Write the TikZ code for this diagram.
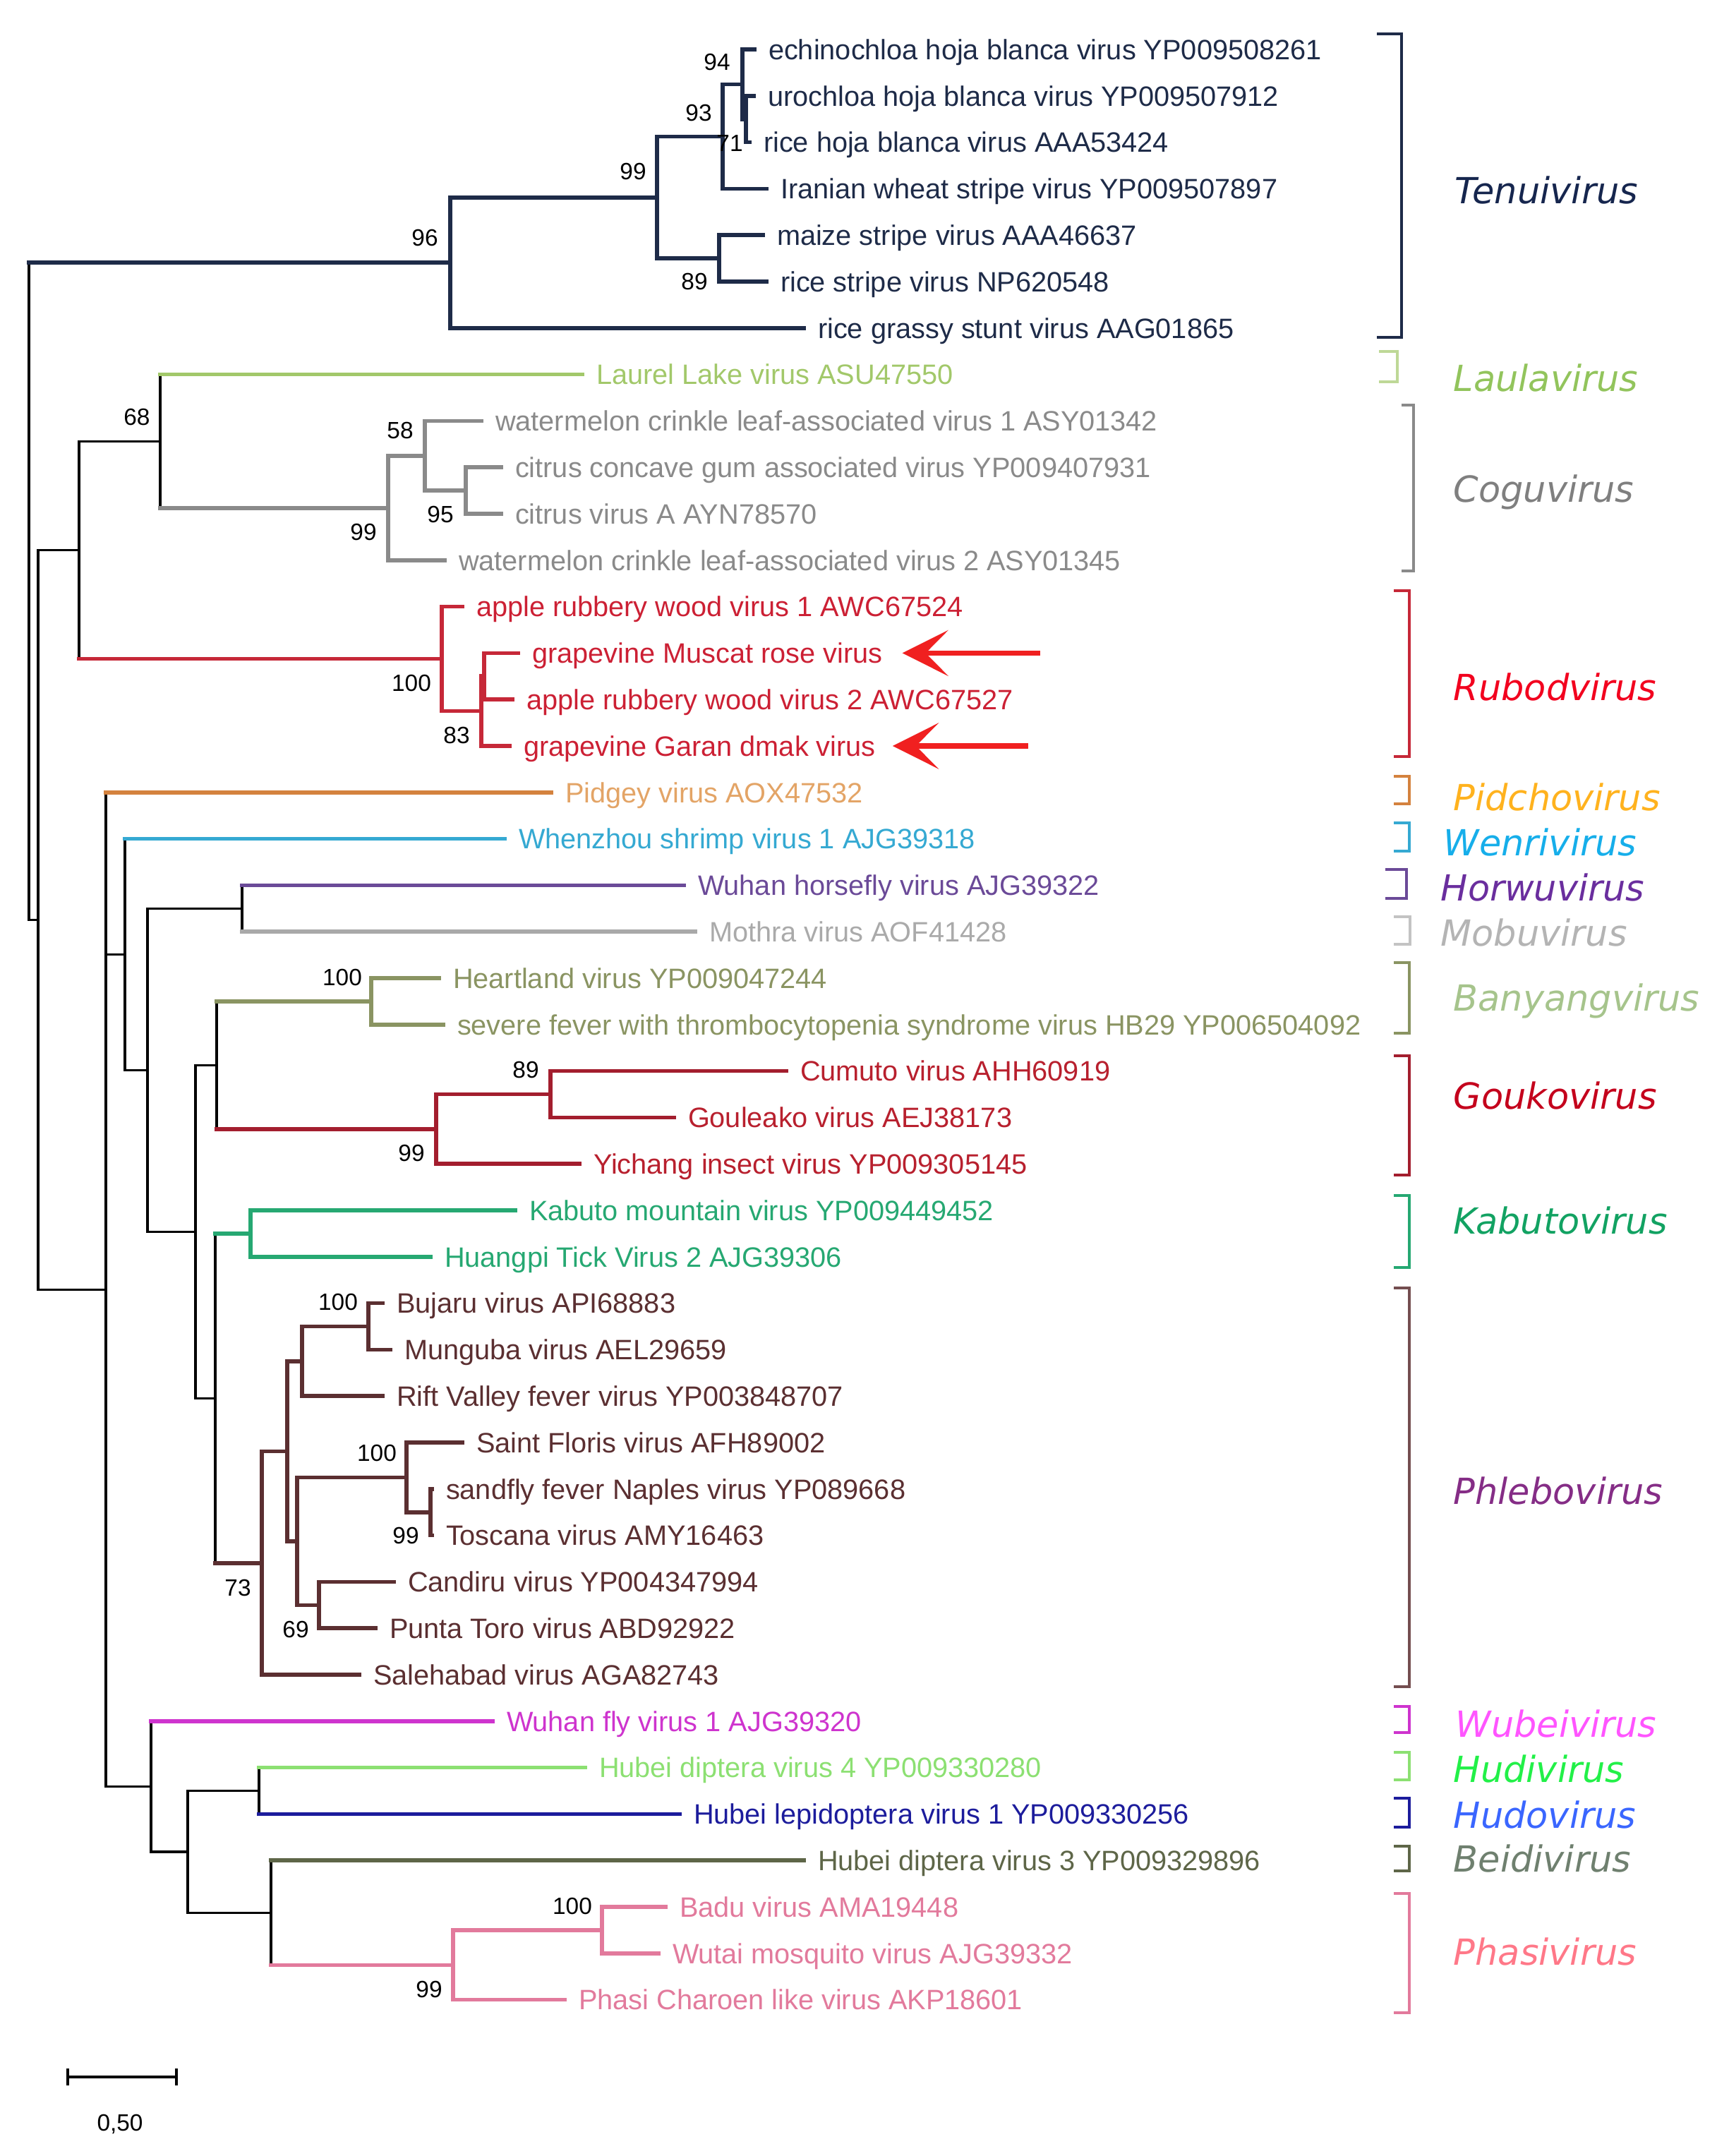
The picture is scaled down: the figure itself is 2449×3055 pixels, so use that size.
\documentclass[tikz,border=0pt]{standalone}
\usepackage{fontspec}
\setmainfont{Liberation Sans}
\newfontfamily\genusfam{DejaVu Sans}
\usetikzlibrary{arrows.meta}

% branch colours
\definecolor{tenui}{HTML}{1E2B48}
\definecolor{laula}{HTML}{A2C86A}
\definecolor{cogu}{HTML}{8A8A8A}
\definecolor{rubod}{HTML}{C62838}
\definecolor{pidch}{HTML}{D4823E}
\definecolor{wenri}{HTML}{35A9D2}
\definecolor{horwu}{HTML}{6B4A98}
\definecolor{mobu}{HTML}{A9A9A9}
\definecolor{banya}{HTML}{8A9462}
\definecolor{gouko}{HTML}{A31E2E}
\definecolor{kabut}{HTML}{26A872}
\definecolor{phleb}{HTML}{5B2F31}
\definecolor{wubei}{HTML}{CE34CE}
\definecolor{hudi}{HTML}{8CE072}
\definecolor{hudo}{HTML}{1C1C9C}
\definecolor{beidi}{HTML}{5E6648}
\definecolor{phasi}{HTML}{E27A9C}
% leaf text colours
\definecolor{rubodT}{HTML}{CC2034}
\definecolor{pidchT}{HTML}{E3A466}
\definecolor{goukoT}{HTML}{B8202E}
\definecolor{mobuT}{HTML}{AAAAAA}
% genus label colours
\definecolor{tenuiG}{HTML}{16264E}
\definecolor{laulaG}{HTML}{92C45C}
\definecolor{coguG}{HTML}{7F7F7F}
\definecolor{rubodG}{HTML}{F2001E}
\definecolor{pidchG}{HTML}{FFB21E}
\definecolor{wenriG}{HTML}{16AEEA}
\definecolor{horwuG}{HTML}{6A2E9E}
\definecolor{mobuG}{HTML}{B4B4B4}
\definecolor{banyaG}{HTML}{A6C48C}
\definecolor{goukoG}{HTML}{C4001C}
\definecolor{kabutG}{HTML}{12A262}
\definecolor{phlebG}{HTML}{852D86}
\definecolor{wubeiG}{HTML}{FF55FF}
\definecolor{hudiG}{HTML}{22F048}
\definecolor{hudoG}{HTML}{3A66FF}
\definecolor{beidiG}{HTML}{6F806F}
\definecolor{phasiG}{HTML}{FF7888}
\definecolor{arrowred}{HTML}{F02020}

\newcommand{\leaffont}{\fontsize{11.3}{13}\selectfont}
\newcommand{\bootfont}{\fontsize{9.5}{10}\selectfont}
\newcommand{\genusfont}{\genusfam\itshape\fontsize{14.5}{16}\selectfont}

% bar of a node from first to last child, then one branch per child
\newcommand{\clade}[5]{%
  \draw[#1] (#2 |- #3) -- (#2 |- #4);
  \foreach \c/\s in {#5} {\draw[\s] (#2 |- \c) -- (\c);}
}
\newcommand{\bracket}[5]{\draw[brack,#1] (#2,#4) -| (#3,#5) -- (#2,#5);}

\begin{document}
\begin{tikzpicture}[x=0.1mm, y=-0.1mm,
  leaf/.style={anchor=west, inner xsep=2mm, inner ysep=0pt, outer sep=0pt,
    text height=8.1pt, text depth=0pt, font=\leaffont},
  boot/.style={inner sep=0pt, font=\bootfont},
  genus/.style={anchor=base west, inner sep=0pt, font=\genusfont},
  br/.style={line width=1.6pt, line cap=rect},
  bb/.style={line width=0.9pt, line cap=rect, black},
  tenuiB/.style={br, tenui}, laulaB/.style={br, laula}, coguB/.style={br, cogu},
  rubodB/.style={br, rubod}, pidchB/.style={br, pidch}, wenriB/.style={br, wenri},
  horwuB/.style={br, horwu}, mobuB/.style={br, mobu}, banyaB/.style={br, banya},
  goukoB/.style={br, gouko}, kabutB/.style={br, kabut}, phlebB/.style={br, phleb},
  wubeiB/.style={br, wubei}, hudiB/.style={br, hudi}, hudoB/.style={br, hudo},
  beidiB/.style={br, beidi}, phasiB/.style={br, phasi},
  brack/.style={line width=1.4pt},
  redarrow/.style={line width=2.2pt, arrowred, -{Stealth[length=6.5mm, width=6.5mm, inset=3.2mm]}}]

\useasboundingbox (0,0) rectangle (2449,3055);

% leaves
\node[leaf, text=tenui] (echin) at (1069,70) {echinochloa hoja blanca virus YP009508261};
\node[leaf, text=tenui] (uro) at (1068,135.8) {urochloa hoja blanca virus YP009507912};
\node[leaf, text=tenui] (rhb) at (1062,201.6) {rice hoja blanca virus AAA53424};
\node[leaf, text=tenui] (iran) at (1086,267.4) {Iranian wheat stripe virus YP009507897};
\node[leaf, text=tenui] (maize) at (1081,333.2) {maize stripe virus AAA46637};
\node[leaf, text=tenui] (rsv) at (1086,399) {rice stripe virus NP620548};
\node[leaf, text=tenui] (rgsv) at (1139,464.8) {rice grassy stunt virus AAG01865};
\node[leaf, text=laula] (llv) at (825,530.6) {Laurel Lake virus ASU47550};
\node[leaf, text=cogu] (wcl1) at (682,596.4) {watermelon crinkle leaf-associated virus 1 ASY01342};
\node[leaf, text=cogu] (ccg) at (710,662.2) {citrus concave gum associated virus YP009407931};
\node[leaf, text=cogu] (cva) at (710,728) {citrus virus A AYN78570};
\node[leaf, text=cogu] (wcl2) at (630,793.8) {watermelon crinkle leaf-associated virus 2 ASY01345};
\node[leaf, text=rubodT] (arw1) at (655,859.6) {apple rubbery wood virus 1 AWC67524};
\node[leaf, text=rubodT] (gmr) at (734,925.4) {grapevine Muscat rose virus};
\node[leaf, text=rubodT] (arw2) at (726,991.2) {apple rubbery wood virus 2 AWC67527};
\node[leaf, text=rubodT] (gdm) at (722,1057) {grapevine Garan dmak virus};
\node[leaf, text=pidchT] (pidg) at (781,1122.8) {Pidgey virus AOX47532};
\node[leaf, text=wenri] (wsv) at (715,1188.6) {Whenzhou shrimp virus 1 AJG39318};
\node[leaf, text=horwu] (whv) at (969,1254.4) {Wuhan horsefly virus AJG39322};
\node[leaf, text=mobuT] (moth) at (985,1320.2) {Mothra virus AOF41428};
\node[leaf, text=banya] (hrt) at (622,1386) {Heartland virus YP009047244};
\node[leaf, text=banya] (sfts) at (628,1451.8) {severe fever with thrombocytopenia syndrome virus HB29 YP006504092};
\node[leaf, text=goukoT] (cum) at (1114,1517.6) {Cumuto virus AHH60919};
\node[leaf, text=goukoT] (goul) at (955,1583.4) {Gouleako virus AEJ38173};
\node[leaf, text=goukoT] (yich) at (821,1649.2) {Yichang insect virus YP009305145};
\node[leaf, text=kabut] (kab) at (730,1715) {Kabuto mountain virus YP009449452};
\node[leaf, text=kabut] (htv) at (610,1780.8) {Huangpi Tick Virus 2 AJG39306};
\node[leaf, text=phleb] (buj) at (542,1846.6) {Bujaru virus API68883};
\node[leaf, text=phleb] (mun) at (553,1912.4) {Munguba virus AEL29659};
\node[leaf, text=phleb] (rvf) at (542,1978.2) {Rift Valley fever virus YP003848707};
\node[leaf, text=phleb] (sfl) at (655,2044) {Saint Floris virus AFH89002};
\node[leaf, text=phleb] (sfn) at (612,2109.8) {sandfly fever Naples virus YP089668};
\node[leaf, text=phleb] (tos) at (612,2175.6) {Toscana virus AMY16463};
\node[leaf, text=phleb] (cand) at (558,2241.4) {Candiru virus YP004347994};
\node[leaf, text=phleb] (pt) at (532,2307.2) {Punta Toro virus ABD92922};
\node[leaf, text=phleb] (sal) at (509,2373) {Salehabad virus AGA82743};
\node[leaf, text=wubei] (wfv) at (698,2438.8) {Wuhan fly virus 1 AJG39320};
\node[leaf, text=hudi] (hdv4) at (829,2504.6) {Hubei diptera virus 4 YP009330280};
\node[leaf, text=hudo] (hlv) at (963,2570.4) {Hubei lepidoptera virus 1 YP009330256};
\node[leaf, text=beidi] (hdv3) at (1139,2636.2) {Hubei diptera virus 3 YP009329896};
\node[leaf, text=phasi] (badu) at (943,2702) {Badu virus AMA19448};
\node[leaf, text=phasi] (wut) at (933,2767.8) {Wutai mosquito virus AJG39332};
\node[leaf, text=phasi] (phasi) at (800,2833.6) {Phasi Charoen like virus AKP18601};

% inner nodes
\coordinate (nB) at (1057,168.7);
\coordinate (nA) at (1052,119.4);
\coordinate (nC) at (1024,193.4);
\coordinate (nD) at (1019,366.1);
\coordinate (nE) at (931,279.8);
\coordinate (n96) at (638,372.3);
\coordinate (nCit) at (660,695.1);
\coordinate (n58) at (602,645.8);
\coordinate (n99c) at (550,719.8);
\coordinate (n68) at (227,625.2);
\coordinate (nMA) at (686,958.3);
\coordinate (n83) at (682,1007.6);
\coordinate (n100r) at (626,933.6);
\coordinate (nLR) at (112,779.4);
\coordinate (nHM) at (343,1287.3);
\coordinate (nBan) at (526,1418.9);
\coordinate (n89) at (780,1550.5);
\coordinate (n99g) at (618,1599.9);
\coordinate (n307) at (307,1509.4);
\coordinate (nKab) at (355,1747.9);
\coordinate (nBM) at (522,1879.5);
\coordinate (n428) at (428,1928.9);
\coordinate (nNT) at (610,2142.7);
\coordinate (n100s) at (576,2093.4);
\coordinate (n69) at (452,2274.3);
\coordinate (n421) at (421,2183.8);
\coordinate (n407) at (407,2056.4);
\coordinate (n73) at (371,2214.7);
\coordinate (n305) at (305,1981.3);
\coordinate (n277) at (277,1745.4);
\coordinate (n209) at (209,1516.3);
\coordinate (n177) at (177,1352.5);
\coordinate (nHub) at (367,2537.5);
\coordinate (n100p) at (853,2734.9);
\coordinate (n99p) at (642,2784.3);
\coordinate (n384) at (384,2710.2);
\coordinate (n266) at (266,2623.9);
\coordinate (nLow) at (214,2531.3);
\coordinate (nBig) at (150,1827.1);
\coordinate (n54) at (54,1303.2);
\coordinate (root) at (41,837.8);

% branches
\clade{tenuiB}{nB}{uro}{rhb}{uro/tenuiB, rhb/tenuiB}
\clade{tenuiB}{nA}{echin}{nB}{echin/tenuiB, nB/tenuiB}
\clade{tenuiB}{nC}{nA}{iran}{nA/tenuiB, iran/tenuiB}
\clade{tenuiB}{nD}{maize}{rsv}{maize/tenuiB, rsv/tenuiB}
\clade{tenuiB}{nE}{nC}{nD}{nC/tenuiB, nD/tenuiB}
\clade{tenuiB}{n96}{nE}{rgsv}{nE/tenuiB, rgsv/tenuiB}
\clade{coguB}{nCit}{ccg}{cva}{ccg/coguB, cva/coguB}
\clade{coguB}{n58}{wcl1}{nCit}{wcl1/coguB, nCit/coguB}
\clade{coguB}{n99c}{n58}{wcl2}{n58/coguB, wcl2/coguB}
\clade{bb}{n68}{llv}{n99c}{llv/laulaB, n99c/coguB}
\clade{rubodB}{nMA}{gmr}{arw2}{gmr/rubodB, arw2/rubodB}
\clade{rubodB}{n83}{nMA}{gdm}{nMA/rubodB, gdm/rubodB}
\clade{rubodB}{n100r}{arw1}{n83}{arw1/rubodB, n83/rubodB}
\clade{bb}{nLR}{n68}{n100r}{n68/bb, n100r/rubodB}
\clade{bb}{nHM}{whv}{moth}{whv/horwuB, moth/mobuB}
\clade{banyaB}{nBan}{hrt}{sfts}{hrt/banyaB, sfts/banyaB}
\clade{goukoB}{n89}{cum}{goul}{cum/goukoB, goul/goukoB}
\clade{goukoB}{n99g}{n89}{yich}{n89/goukoB, yich/goukoB}
\clade{bb}{n307}{nBan}{n99g}{nBan/banyaB, n99g/goukoB}
\clade{kabutB}{nKab}{kab}{htv}{kab/kabutB, htv/kabutB}
\clade{phlebB}{nBM}{buj}{mun}{buj/phlebB, mun/phlebB}
\clade{phlebB}{n428}{nBM}{rvf}{nBM/phlebB, rvf/phlebB}
\clade{phlebB}{nNT}{sfn}{tos}{sfn/phlebB, tos/phlebB}
\clade{phlebB}{n100s}{sfl}{nNT}{sfl/phlebB, nNT/phlebB}
\clade{phlebB}{n69}{cand}{pt}{cand/phlebB, pt/phlebB}
\clade{phlebB}{n421}{n100s}{n69}{n100s/phlebB, n69/phlebB}
\clade{phlebB}{n407}{n428}{n421}{n428/phlebB, n421/phlebB}
\clade{phlebB}{n73}{n407}{sal}{n407/phlebB, sal/phlebB}
\clade{bb}{n305}{nKab}{n73}{nKab/kabutB, n73/phlebB}
\clade{bb}{n277}{n307}{n305}{n307/bb, n305/bb}
\clade{bb}{n209}{nHM}{n277}{nHM/bb, n277/bb}
\clade{bb}{n177}{wsv}{n209}{wsv/wenriB, n209/bb}
\clade{bb}{nHub}{hdv4}{hlv}{hdv4/hudiB, hlv/hudoB}
\clade{phasiB}{n100p}{badu}{wut}{badu/phasiB, wut/phasiB}
\clade{phasiB}{n99p}{n100p}{phasi}{n100p/phasiB, phasi/phasiB}
\clade{bb}{n384}{hdv3}{n99p}{hdv3/beidiB, n99p/phasiB}
\clade{bb}{n266}{nHub}{n384}{nHub/bb, n384/bb}
\clade{bb}{nLow}{wfv}{n266}{wfv/wubeiB, n266/bb}
\clade{bb}{nBig}{pidg}{nLow}{pidg/pidchB, n177/bb, nLow/bb}
\clade{bb}{n54}{nLR}{nBig}{nLR/bb, nBig/bb}
\clade{bb}{root}{n96}{n54}{n96/tenuiB, n54/bb}

% bootstrap values
\node[boot] (b94) at (1016,88) {94};
\node[boot] (b93) at (990,160) {93};
\node[boot] (b71) at (1034,203) {71};
\node[boot] (b99a) at (897,243) {99};
\node[boot] (b96) at (602,337) {96};
\node[boot] (b89a) at (984,399) {89};
\node[boot] (b68) at (194,591) {68};
\node[boot] (b58) at (567,610) {58};
\node[boot] (b95) at (624,729) {95};
\node[boot] (b99b) at (515,754) {99};
\node[boot] (b100a) at (583,968) {100};
\node[boot] (b83) at (647,1042) {83};
\node[boot] (b100b) at (485,1385) {100};
\node[boot] (b89b) at (745,1516) {89};
\node[boot] (b99c) at (583,1634) {99};
\node[boot] (b100c) at (479,1845) {100};
\node[boot] (b100d) at (534,2059) {100};
\node[boot] (b99d) at (575,2176) {99};
\node[boot] (b73) at (337,2250) {73};
\node[boot] (b69) at (419,2309) {69};
\node[boot] (b100e) at (811,2701) {100};
\node[boot] (b99e) at (608,2819) {99};

% arrows to the two grapevine viruses
\coordinate (tipA) at ([xshift=0.8mm]gmr.east);
\coordinate (tipB) at ([xshift=0.4mm]gdm.east);
\draw[redarrow] ([xshift=19.5mm]tipA) -- (tipA);
\draw[redarrow] ([xshift=19.2mm]tipB) -- (tipB);

% genus brackets
\bracket{tenui}{1951}{1986}{48}{478}
\bracket{laula!70}{1954}{1980}{498}{541}
\bracket{cogu}{1986}{2003}{574}{809}
\bracket{rubod}{1975}{1997}{837}{1072}
\bracket{pidch}{1975}{1997}{1100}{1139}
\bracket{wenri}{1975}{1997}{1166}{1206}
\bracket{horwu}{1963}{1993}{1232}{1273}
\bracket{mobu!70}{1975}{1998}{1299}{1338}
\bracket{banya}{1975}{1997}{1364}{1464}
\bracket{gouko}{1975}{1997}{1496}{1665}
\bracket{kabut}{1975}{1997}{1694}{1796}
\bracket{phleb!85}{1975}{1997}{1825}{2390}
\bracket{wubei}{1975}{1997}{2418}{2455}
\bracket{hudi}{1975}{1997}{2483}{2522}
\bracket{hudo}{1975}{1997}{2548}{2589}
\bracket{beidi}{1975}{1997}{2616}{2651}
\bracket{phasi}{1975}{1997}{2683}{2852}

% genus names
\node[genus, text=tenuiG] (gTenui) at (2061,289) {Tenuivirus};
\node[genus, text=laulaG] (gLaula) at (2059,555) {Laulavirus};
\node[genus, text=coguG] (gCogu) at (2059,712) {Coguvirus};
\node[genus, text=rubodG] (gRubod) at (2059,992) {Rubodvirus};
\node[genus, text=pidchG] (gPidcho) at (2059,1148) {Pidchovirus};
\node[genus, text=wenriG] (gWenri) at (2045,1212) {Wenrivirus};
\node[genus, text=horwuG] (gHorwu) at (2041,1276) {Horwuvirus};
\node[genus, text=mobuG] (gMobu) at (2041,1340) {Mobuvirus};
\node[genus, text=banyaG] (gBanyang) at (2059,1432) {Banyangvirus};
\node[genus, text=goukoG] (gGouko) at (2059,1571) {Goukovirus};
\node[genus, text=kabutG] (gKabuto) at (2059,1748) {Kabutovirus};
\node[genus, text=phlebG] (gPhlebo) at (2059,2131) {Phlebovirus};
\node[genus, text=wubeiG] (gWubei) at (2062,2461) {Wubeivirus};
\node[genus, text=hudiG] (gHudi) at (2059,2525) {Hudivirus};
\node[genus, text=hudoG] (gHudo) at (2059,2590) {Hudovirus};
\node[genus, text=beidiG] (gBeidi) at (2059,2652) {Beidivirus};
\node[genus, text=phasiG] (gPhasi) at (2059,2784) {Phasivirus};

% scale bar
\coordinate (sb0) at (96,2943);
\coordinate (sb1) at (250,2943);
\draw[bb] (sb0) -- (sb1);
\draw[bb] ([yshift=1mm]sb0) -- ([yshift=-1mm]sb0);
\draw[bb] ([yshift=1mm]sb1) -- ([yshift=-1mm]sb1);
\node[boot] (sbtext) at (170,3010) {0,50};

\end{tikzpicture}
\end{document}
